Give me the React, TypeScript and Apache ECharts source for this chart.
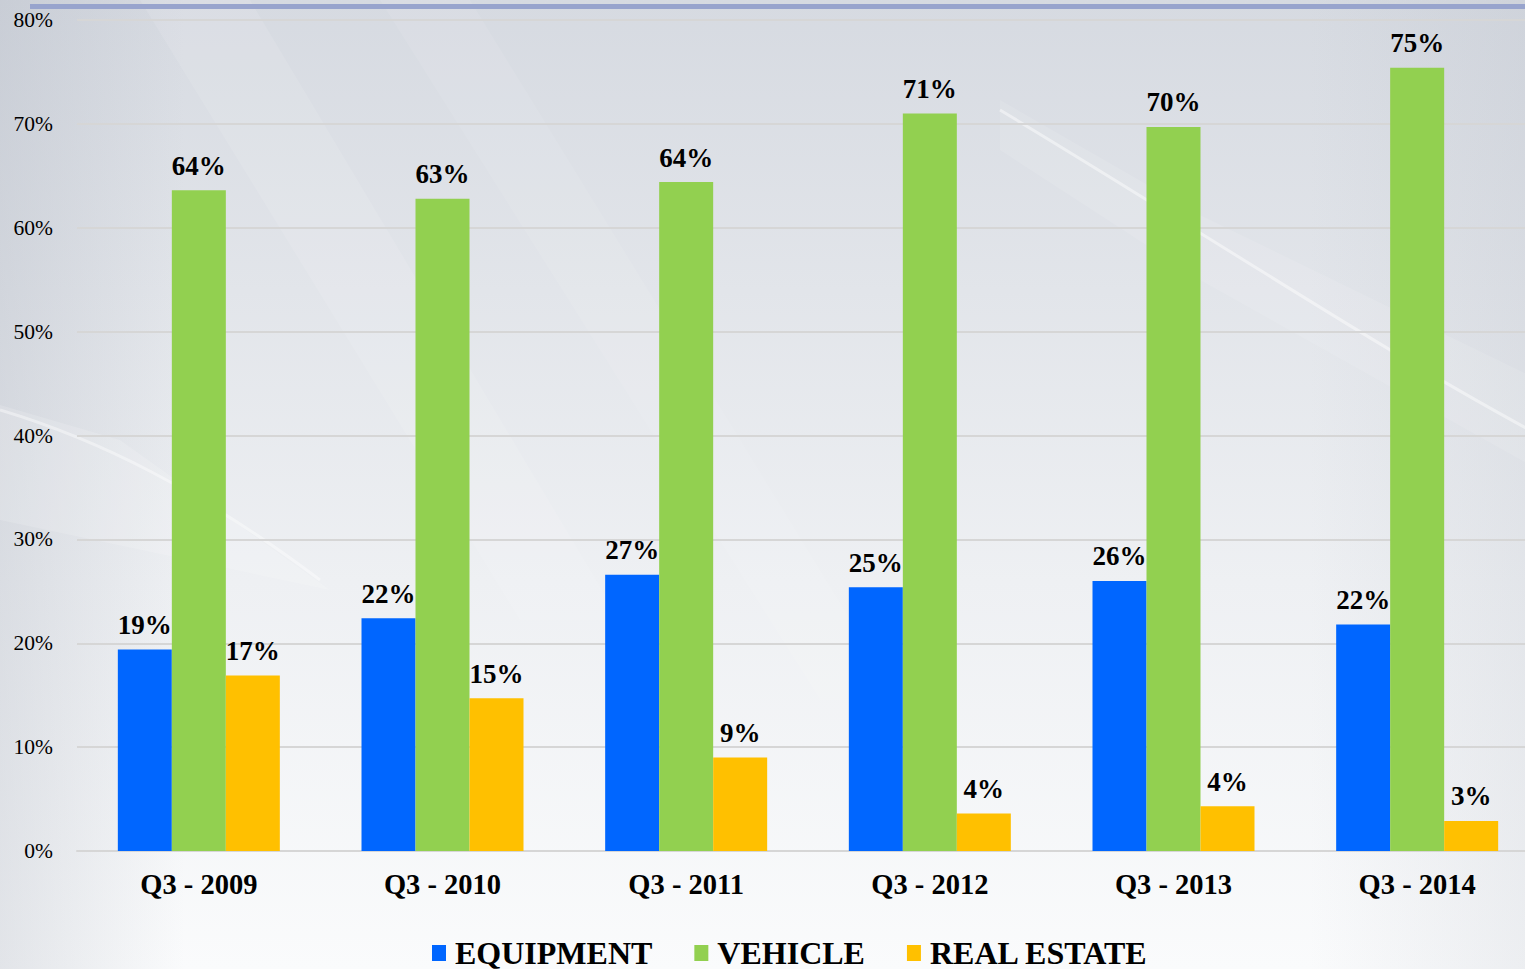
import React, { useEffect, useRef } from "react";
import * as echarts from "echarts";

const categories = ["Q3 - 2009", "Q3 - 2010", "Q3 - 2011", "Q3 - 2012", "Q3 - 2013", "Q3 - 2014"];
const equipment = [19.4, 22.4, 26.6, 25.4, 26.0, 21.8];
const vehicle = [63.6, 62.8, 64.4, 71.0, 69.7, 75.4];
const realEstate = [16.9, 14.7, 9.0, 3.6, 4.3, 2.9];
const seriesNames = ["EQUIPMENT", "VEHICLE", "REAL ESTATE"];
const seriesColors = ["#0066ff", "#92d050", "#ffc000"];
const yMin = 0;
const yMax = 80;
const yStep = 10;

const SERIF = "'Liberation Serif', 'Times New Roman', serif";

export default function App() {
  const ref = useRef<HTMLDivElement>(null);
  useEffect(() => {
    document.body.style.margin = "0";
    const chart = echarts.init(ref.current!, null, { renderer: "svg" });
    const values = [equipment, vehicle, realEstate];
    const lg = (x: number, y: number, x2: number, y2: number, stops: [number, string][]) =>
      new echarts.graphic.LinearGradient(x, y, x2, y2, stops.map(([offset, color]) => ({ offset, color })));
    chart.setOption({
      animation: false,
      textStyle: { fontFamily: SERIF },
      graphic: [
        {
          type: "rect", z: -100, silent: true,
          shape: { x: 0, y: 0, width: 1539, height: 969 },
          style: { fill: lg(0, 0, 0, 1, [[0, "#d6dae1"], [0.3, "#e2e5ea"], [0.6, "#eef0f3"], [1, "#fafbfc"]]) },
        },
        {
          type: "rect", z: -99, silent: true,
          shape: { x: 0, y: 0, width: 1539, height: 969 },
          style: { fill: lg(0, 0, 1, 0, [[0, "rgba(170,176,188,0.3)"], [0.12, "rgba(170,176,188,0)"], [0.85, "rgba(170,176,188,0)"], [1, "rgba(170,176,188,0.18)"]]) },
        },
        {
          type: "polygon", z: -98, silent: true,
          shape: { points: [[140, 0], [250, 0], [620, 620], [520, 620]] },
          style: { fill: "rgba(255,255,255,0.1)" },
        },
        {
          type: "polygon", z: -98, silent: true,
          shape: { points: [[380, 0], [470, 0], [900, 700], [820, 700]] },
          style: { fill: "rgba(255,255,255,0.08)" },
        },
        {
          type: "polygon", z: -98, silent: true,
          shape: { points: [[0, 405], [120, 440], [330, 590], [0, 520]] },
          style: { fill: "rgba(255,255,255,0.15)" },
        },
        {
          type: "polygon", z: -98, silent: true,
          shape: { points: [[1000, 100], [1200, 215], [1539, 380], [1539, 470], [1200, 280], [1000, 150]] },
          style: { fill: "rgba(255,255,255,0.1)" },
        },
        {
          type: "bezierCurve", z: -97, silent: true,
          shape: { x1: 1000, y1: 110, cpx1: 1200, cpy1: 230, cpx2: 1380, cpy2: 350, x2: 1539, y2: 435 },
          style: { stroke: "rgba(255,255,255,0.45)", lineWidth: 3, fill: null },
        },
        {
          type: "bezierCurve", z: -97, silent: true,
          shape: { x1: 0, y1: 410, cpx1: 100, cpy1: 440, cpx2: 200, cpy2: 490, x2: 320, y2: 580 },
          style: { stroke: "rgba(255,255,255,0.4)", lineWidth: 3, fill: null },
        },
        {
          type: "rect", z: 10, silent: true,
          shape: { x: 30, y: 4, width: 1509, height: 5 },
          style: { fill: "#98a4cd" },
        },
      ],
      grid: { left: 77, right: 0, top: 20, bottom: 118, containLabel: false },
      legend: {
        left: 427,
        top: 932,
        itemWidth: 14,
        itemHeight: 16,
        itemGap: 42,
        icon: "rect",
        data: seriesNames,
        textStyle: { fontFamily: SERIF, fontSize: 32, lineHeight: 32, fontWeight: "bold", color: "#000", padding: [0, 0, 0, 4] },
      },
      xAxis: {
        type: "category",
        data: categories,
        axisLine: { lineStyle: { color: "#d6d6d6", width: 2 } },
        axisTick: { show: false },
        axisLabel: { fontFamily: SERIF, fontSize: 28.5, fontWeight: "bold", color: "#000", margin: 19 },
      },
      yAxis: {
        type: "value",
        min: yMin,
        max: yMax,
        interval: yStep,
        axisLine: { show: false },
        axisTick: { show: false },
        splitLine: { lineStyle: { color: "#d6d6d6", width: 2 } },
        axisLabel: { fontFamily: SERIF, fontSize: 21.5, color: "#000", margin: 24, formatter: "{value}%" },
      },
      series: seriesNames.map((name, i) => ({
        name,
        type: "bar",
        data: values[i],
        barWidth: 54,
        barGap: "0%",
        itemStyle: { color: seriesColors[i] },
        label: {
          show: true,
          position: "top",
          distance: 11,
          fontFamily: SERIF,
          fontSize: 27,
          fontWeight: "bold",
          color: "#000",
          formatter: (p: any) => Math.round(p.value) + "%",
        },
      })),
    });
    return () => chart.dispose();
  }, []);
  return (
    <div style={{ position: "absolute", left: 0, top: 0, width: 1525, height: 969, overflow: "hidden" }}>
      <div ref={ref} style={{ width: 1539, height: 969 }} />
    </div>
  );
}
